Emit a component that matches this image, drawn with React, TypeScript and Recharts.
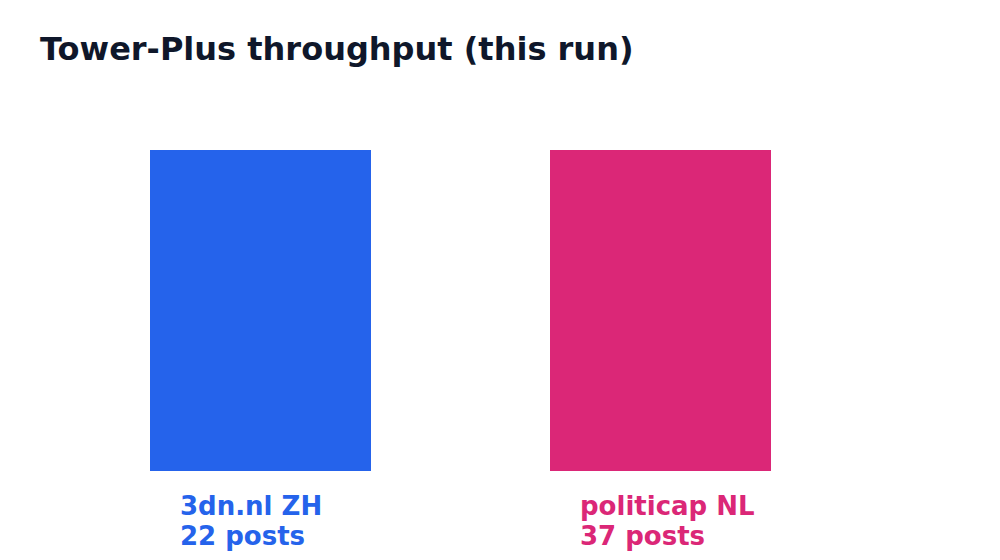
import React from "react";
import { BarChart, Bar, XAxis, YAxis, Cell } from "recharts";

const TITLE = "Tower-Plus throughput (this run)";
const categories = ["3dn.nl ZH", "politicap NL"];
const posts = [22, 37];
const barValues = [1, 1];
const colors = ["#2563eb", "#db2777"];

const data = categories.map((name, i) => ({ name, posts: posts[i], value: barValues[i] }));

const FONT = "'DejaVu Sans', sans-serif";

const Tick = (props: any) => {
  const { x, y, payload, index } = props;
  const i = typeof index === "number" ? index : categories.indexOf(payload.value);
  const c = colors[i];
  return (
    <text x={x - 80} y={y} textAnchor="start" fill={c} fontFamily={FONT} fontWeight="bold" fontSize={26}>
      <tspan x={x - 80} y={y + 44}>{categories[i]}</tspan>
      <tspan x={x - 80} y={y + 74}>{`${posts[i]} posts`}</tspan>
    </text>
  );
};

export default function App() {
  return (
    <div style={{ position: "absolute", left: 0, top: 0, width: 1000, height: 560, background: "#fff" }}>
      <div
        style={{
          position: "absolute",
          left: 40,
          top: 33,
          fontFamily: FONT,
          fontWeight: "bold",
          fontSize: 32,
          color: "#0f172a",
          lineHeight: "32px",
          whiteSpace: "nowrap",
        }}
      >
        {TITLE}
      </div>
      <BarChart width={1000} height={560} data={data} margin={{ top: 150, right: 140, bottom: 0, left: 60 }}>
        <XAxis dataKey="name" axisLine={false} tickLine={false} tickSize={0} tickMargin={0} height={89} tick={<Tick />} interval={0} />
        <YAxis hide domain={[0, "dataMax"]} />
        <Bar dataKey="value" barSize={221} isAnimationActive={false}>
          {data.map((d, i) => (
            <Cell key={d.name} fill={colors[i]} />
          ))}
        </Bar>
      </BarChart>
    </div>
  );
}
